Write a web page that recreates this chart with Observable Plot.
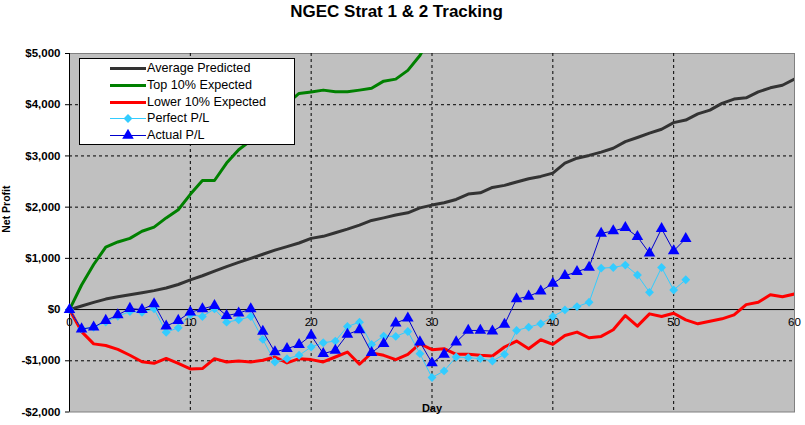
<!DOCTYPE html>
<html>
<head>
<meta charset="utf-8">
<script src="https://cdn.jsdelivr.net/npm/d3@7"></script>
<script src="https://cdn.jsdelivr.net/npm/@observablehq/plot@0.6"></script>
<style>
  body { margin: 0; background: white; font-family: "Liberation Sans", Arial, sans-serif; }
  #wrap { position: relative; width: 805px; height: 425px; overflow: hidden; }
  #title { height: 28px; text-align: center; font-weight: bold; font-size: 17px; line-height: 24px; position: relative; left: -6px; }
  #legend { position: absolute; left: 79px; top: 58px; width: 216px; height: 87px; background: white; border: 1px solid black; box-sizing: border-box; }
  .row { position: absolute; left: 0; height: 17px; width: 100%; }
  .row svg { position: absolute; left: 30px; top: 2px; }
  .row span { position: absolute; left: 67px; top: 0; font-size: 12.6px; line-height: 17px; white-space: nowrap; }
</style>
</head>
<body>
<div id="wrap">
  <div id="title">NGEC Strat 1 &amp; 2 Tracking</div>
  <div id="chart"></div>
  <div id="legend"></div>
</div>
<script>
// ---- data ----
const avgPredicted = [0, 70, 140, 205, 250, 290, 330, 370, 420, 490, 580, 660, 750, 840, 920, 1000, 1080, 1160, 1230, 1300, 1390, 1430, 1500, 1570, 1650, 1740, 1790, 1845, 1890, 1985, 2040, 2085, 2150, 2255, 2280, 2385, 2425, 2490, 2555, 2600, 2665, 2860, 2955, 3010, 3075, 3150, 3280, 3360, 3445, 3520, 3650, 3700, 3820, 3895, 4025, 4110, 4135, 4250, 4330, 4380, 4500];
const top10Expected = [0, 480, 880, 1220, 1320, 1390, 1530, 1610, 1790, 1950, 2250, 2520, 2520, 2860, 3120, 3300, 3550, 3800, 4020, 4220, 4250, 4285, 4255, 4255, 4285, 4320, 4460, 4500, 4670, 4960, 5400];
const lower10Expected = [0, -430, -670, -702, -778, -892, -1019, -1050, -955, -1050, -1158, -1152, -958, -1023, -1003, -1023, -990, -926, -1042, -958, -977, -1023, -926, -829, -1068, -848, -893, -977, -874, -667, -783, -764, -874, -874, -893, -906, -731, -615, -764, -589, -680, -505, -440, -550, -524, -395, -117, -324, -84, -136, -72, -201, -278, -227, -181, -104, 97, 142, 291, 252, 304];
const perfectPL = [0, -376, -345, -245, -130, -39, -52, 14, -442, -357, -100, -136, 13, -246, -201, -136, -583, -1023, -958, -893, -731, -647, -615, -330, -246, -680, -518, -524, -427, -861, -1327, -1198, -926, -939, -958, -1003, -874, -408, -343, -278, -136, -6, 58, 142, 809, 822, 868, 674, 336, 822, 382, 582];
const actualPL = [0, -380, -345, -214, -104, 20, 0, 111, -325, -214, -52, 13, 78, -117, -72, 13, -427, -829, -763, -686, -505, -861, -796, -485, -395, -841, -667, -265, -168, -634, -1042, -874, -634, -408, -408, -421, -291, 207, 259, 360, 511, 660, 738, 822, 1489, 1534, 1598, 1424, 1100, 1579, 1146, 1385];

const seriesNames = ["Average Predicted", "Top 10% Expected", "Lower 10% Expected", "Perfect P/L", "Actual P/L"];
const xTicks = [0, 10, 20, 30, 40, 50, 60];
const yTicks = [-2000, -1000, 0, 1000, 2000, 3000, 4000, 5000];
const xGrid = [10, 20, 30, 40, 50];
const yGrid = [-1000, 1000, 2000, 3000, 4000];

const colors = {
  avg: "#333333", top: "#008000", low: "#ff0000", perfect: "#33ccff", actual: "#0000ff"
};

const toRows = arr => arr.map((v, i) => ({day: i, value: v}));
const fmt = d => (d < 0 ? "-" : "") + "$" + d3.format(",")(Math.abs(d));

const chart = Plot.plot({
  width: 805,
  height: 397,
  marginTop: 25,
  marginBottom: 13.5,
  marginLeft: 69,
  marginRight: 11,
  x: {domain: [0, 60], axis: null},
  y: {domain: [-2000, 5000], axis: null},
  style: {fontFamily: "'Liberation Sans', Arial, sans-serif", background: "white", overflow: "visible", color: "black"},
  marks: [
    Plot.frame({fill: "#c0c0c0", stroke: "#808080"}),
    Plot.ruleX(xGrid, {stroke: "black", strokeDasharray: "3,3", strokeWidth: 1}),
    Plot.ruleY(yGrid, {stroke: "black", strokeDasharray: "3,3", strokeWidth: 1}),
    Plot.ruleY([0], {stroke: "black", strokeWidth: 1}),
    Plot.ruleX([0], {stroke: "black", strokeWidth: 1}),
    Plot.axisY({ticks: yTicks, tickSize: 4, tickPadding: 5, tickFormat: fmt, fontWeight: "bold", fontSize: 11.5, label: null}),
    Plot.text(xTicks, {x: d => d, y: 0, dy: 13, text: d => String(d), fontSize: 11.5, fill: "black"}),
    Plot.text(["Day"], {frameAnchor: "bottom", text: d => d, fontWeight: "bold", fontSize: 11, fill: "black"}),
    Plot.text(["Net Profit"], {frameAnchor: "left", dx: -63, rotate: -90, text: d => d, fontWeight: "bold", fontSize: 10.5, fill: "black"}),
    Plot.line(toRows(avgPredicted), {x: "day", y: "value", stroke: colors.avg, strokeWidth: 3, clip: true}),
    Plot.line(toRows(top10Expected), {x: "day", y: "value", stroke: colors.top, strokeWidth: 3, clip: true}),
    Plot.line(toRows(lower10Expected), {x: "day", y: "value", stroke: colors.low, strokeWidth: 3, clip: true}),
    Plot.line(toRows(perfectPL), {x: "day", y: "value", stroke: colors.perfect, strokeWidth: 1}),
    Plot.dot(toRows(perfectPL), {x: "day", y: "value", symbol: "diamond2", r: 4, fill: colors.perfect, stroke: "none"}),
    Plot.line(toRows(actualPL), {x: "day", y: "value", stroke: "#0000cc", strokeWidth: 1}),
    Plot.dot(toRows(actualPL), {x: "day", y: "value", symbol: "triangle", r: 4.3, fill: colors.actual, stroke: "none"})
  ]
});
document.getElementById("chart").appendChild(chart);

// ---- legend ----
const legendItems = [
  {name: seriesNames[0], color: colors.avg, w: 3, marker: null},
  {name: seriesNames[1], color: colors.top, w: 3, marker: null},
  {name: seriesNames[2], color: colors.low, w: 3, marker: null},
  {name: seriesNames[3], color: colors.perfect, w: 1, marker: "diamond"},
  {name: seriesNames[4], color: "#0000cc", w: 1, marker: "triangle"}
];
const legend = d3.select("#legend");
legendItems.forEach((it, i) => {
  const row = legend.append("div").attr("class", "row").style("top", (1 + i * 16.8) + "px");
  const svg = row.append("svg").attr("width", 36).attr("height", 13);
  svg.append("line").attr("x1", 0).attr("x2", 36).attr("y1", 6.5).attr("y2", 6.5)
    .attr("stroke", it.color).attr("stroke-width", it.w);
  if (it.marker === "diamond") {
    svg.append("path").attr("transform", "translate(18,6.5)")
      .attr("d", d3.symbol(d3.symbolDiamond2, 4 * 4 * Math.PI)()).attr("fill", colors.perfect);
  } else if (it.marker === "triangle") {
    svg.append("path").attr("transform", "translate(18,6.5)")
      .attr("d", d3.symbol(d3.symbolTriangle, 4.3 * 4.3 * Math.PI)()).attr("fill", colors.actual);
  }
  row.append("span").text(it.name);
});
</script>
</body>
</html>
